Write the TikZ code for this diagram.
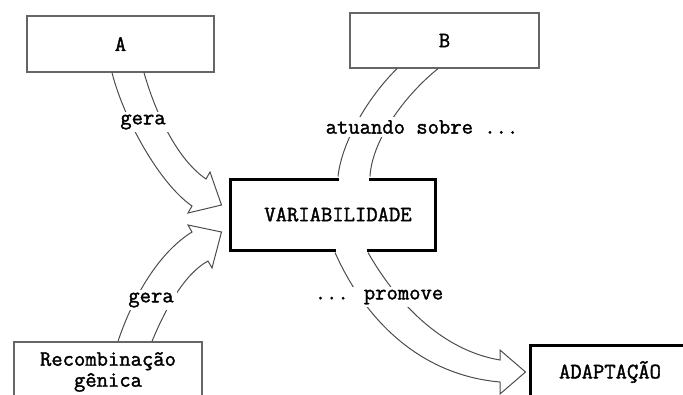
\documentclass[tikz,border=0pt]{standalone}
\usepackage{fontspec}
\newfontfamily\mono[FakeBold=1.6]{Latin Modern Mono}
\usetikzlibrary{calc}
\begin{document}
\begin{tikzpicture}[x=1pt,y=-1pt,
  thinbox/.style={draw=black!60, line width=1.3pt, fill=white, inner sep=0pt},
  thickbox/.style={draw=black, line width=3pt, fill=white, inner sep=0pt},
  txt/.style={font=\mono\fontsize{22}{21}\selectfont},
  edge/.style={draw=black!70, line width=1pt, line join=miter},
  lbl/.style={txt, fill=white, inner sep=3pt}]
\useasboundingbox (0,0) rectangle (683,394);
\clip (0,0) rectangle (683,394);
% boxes
\node[thinbox, txt, minimum width=187pt, minimum height=56pt] (A) at (120.5,44) {A};
\node[thinbox, txt, minimum width=189pt, minimum height=55pt] (B) at (444.5,40.5) {B};
\node[thickbox, txt, minimum width=205pt, minimum height=71pt] (V) at (332.5,214.5) {\hspace*{11pt}VARIABILIDADE};
\node[thinbox, txt, align=center, minimum width=188pt, minimum height=60pt] (R) at (108,372) {Recombinação\\gênica};
\node[thickbox, txt, minimum width=160pt, minimum height=54pt] (AD) at (610,372) {ADAPTAÇÃO};
% gaps in the thick box where the bands meet it
\fill[white] ($(V.north)+(6.2,-4)$) rectangle ($(V.north)+(36.8,3)$);
\fill[white] ($(V.south)+(3.2,-3)$) rectangle ($(V.south)+(34.8,4)$);
% arrow A -> V
\coordinate (a1) at ($(A.south)+(-8.5,0)$);
\coordinate (a2) at ($(A.south)+(23.5,0)$);
\draw[edge] (a1) .. controls (124,120) and (160,184) .. (192,206)
  -- (188,213) -- ($(V.west)+(-7,-9.5)$) -- (210,172) -- (206,179)
  .. controls (178,160) and (156,115) .. (a2);
% arrow R -> V
\coordinate (r1) at ($(R.north)+(10,0)$);
\coordinate (r2) at ($(R.north)+(44,0)$);
\draw[edge] (r1) .. controls (130,305) and (155,255) .. (192,232)
  -- (188,225) -- ($(V.west)+(-7,17.5)$) -- (212,268) -- (208,261)
  .. controls (184,274) and (165,310) .. (r2);
% arrow B -> V
\coordinate (b1) at ($(B.south)+(-47.5,0)$);
\coordinate (b2) at ($(B.south)+(-6.5,0)$);
\draw[edge] (b1) .. controls (370,95) and (342,140) .. ($(V.north)+(5.5,-1)$);
\draw[edge] (b2) .. controls (405,95) and (372,140) .. ($(V.north)+(37.5,-1)$);
% arrow V -> AD
\coordinate (v1) at ($(V.south)+(2.5,1)$);
\coordinate (v2) at ($(V.south)+(35.5,1)$);
\draw[edge] (v1) .. controls (365,320) and (420,375) .. (500,382)
  -- (500,394) -- ($(AD.west)+(-3,0)$) -- (500,350) -- (500,360)
  .. controls (440,350) and (395,300) .. (v2);
% labels
\node[lbl] (l1) at (143,122) {gera};
\node[lbl] (l2) at (151,300) {gera};
\node[lbl] (l3) at (422,127) {atuando sobre ...};
\node[lbl] (l4) at (379,297) {... promove};
\end{tikzpicture}
\end{document}
